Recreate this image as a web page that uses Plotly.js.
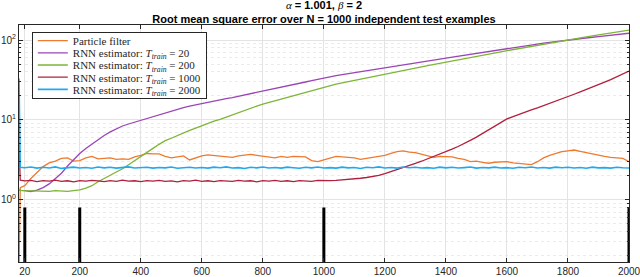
<!DOCTYPE html>
<html>
<head>
<meta charset="utf-8">
<script src="https://cdn.plot.ly/plotly-3.0.1.min.js"></script>
<style>
  html, body { margin: 0; padding: 0; background: #fff; }
  #chart { width: 640px; height: 277px; }
</style>
</head>
<body>
<div id="chart"></div>
<script>
// ---- data ----
var steps = [1, 5,
  20, 40, 60, 80, 100, 120, 140, 160, 180, 200,
  220, 240, 260, 280, 300, 320, 340, 360, 380, 400,
  420, 440, 460, 480, 500, 520, 540, 560, 580, 600,
  620, 640, 660, 680, 700, 720, 740, 760, 780, 800,
  820, 840, 860, 880, 900, 920, 940, 960, 980, 1000,
  1020, 1040, 1060, 1080, 1100, 1120, 1140, 1160, 1180, 1200,
  1220, 1240, 1260, 1280, 1300, 1320, 1340, 1360, 1380, 1400,
  1420, 1440, 1460, 1480, 1500, 1520, 1540, 1560, 1580, 1600,
  1620, 1640, 1660, 1680, 1700, 1720, 1740, 1760, 1780, 1800,
  1820, 1840, 1860, 1880, 1900, 1920, 1940, 1960, 1980, 2000];

var particleFilter = [0.12, 1.42,
  1.5, 1.85, 2.2, 2.6, 2.9, 3.05, 3.3, 3.35, 3.05, 3.1,
  3.35, 3.5, 3.25, 3.3, 3.35, 3.2, 3.25, 3.2, 3.45, 3.6,
  3.8, 3.75, 3.75, 3.5, 3.35, 3.45, 3.55, 3.15, 3.35, 3.55,
  3.65, 3.6, 3.5, 3.45, 3.4, 3.55, 3.65, 3.7, 3.6, 3.5,
  3.4, 3.35, 3.5, 3.4, 3.5, 3.5, 3.45, 3.1, 3.0, 3.15,
  3.3, 3.5, 3.45, 3.4, 3.35, 3.2, 3.3, 3.45, 3.5, 3.6,
  3.8, 4.0, 4.1, 3.95, 3.9, 3.75, 3.55, 3.4, 3.5, 3.5,
  3.45, 3.3, 3.2, 3.0, 3.05, 2.95, 2.87, 2.95, 3.0, 3.0,
  2.9, 2.85, 2.78, 2.75, 3.0, 3.35, 3.6, 3.8, 4.0, 4.1,
  4.2, 4.05, 3.9, 3.7, 3.6, 3.5, 3.4, 3.35, 3.3, 3.0];

var rnnT20 = [1.33, 1.31,
  1.3, 1.27, 1.32, 1.42, 1.58, 1.82, 2.15, 2.65, 3.2, 3.8,
  4.4, 5.0, 5.7, 6.4, 7.1, 7.8, 8.4, 8.9, 9.4, 9.9,
  10.4, 10.9, 11.5, 12.1, 12.8, 13.6, 14.3, 14.9, 15.5, 16.1,
  16.7, 17.3, 17.9, 18.5, 19.1, 19.8, 20.5, 21.3, 22.1, 23.0,
  23.8, 24.7, 25.6, 26.6, 27.6, 28.7, 29.9, 31.1, 32.4, 33.7,
  34.8, 35.9, 37.0, 38.1, 39.2, 40.3, 41.4, 42.6, 43.8, 45.0,
  46.3, 47.6, 48.9, 50.3, 51.8, 53.3, 54.8, 56.4, 58.0, 59.6,
  61.3, 63.0, 64.8, 66.6, 68.5, 70.4, 72.4, 74.4, 76.5, 78.6,
  80.7, 82.8, 85.0, 87.2, 89.4, 91.6, 93.8, 96.0, 98.2, 100.4,
  102.5, 104.6, 106.7, 108.8, 110.9, 113.0, 115.2, 117.4, 119.6, 122.0];

var rnnT200 = [1.35, 1.31,
  1.3, 1.29, 1.28, 1.29, 1.27, 1.3, 1.28, 1.27, 1.3, 1.33,
  1.4, 1.5, 1.68, 1.85, 2.0, 2.2, 2.45, 2.75, 3.1, 3.55,
  3.95, 4.4, 4.95, 5.5, 5.9, 6.4, 6.9, 7.4, 7.9, 8.5,
  9.1, 9.7, 10.2, 10.9, 11.6, 12.4, 13.2, 14.0, 14.9, 15.8,
  16.6, 17.5, 18.4, 19.3, 20.3, 21.3, 22.3, 23.4, 24.6, 25.8,
  27.0, 28.1, 29.2, 30.3, 31.5, 32.7, 33.9, 35.1, 36.4, 37.7,
  39.0, 40.4, 41.8, 43.3, 44.8, 46.4, 48.0, 49.7, 51.4, 53.2,
  55.0, 56.9, 58.8, 60.8, 62.8, 64.9, 67.0, 69.2, 71.5, 73.8,
  76.2, 78.6, 81.1, 83.7, 86.3, 89.0, 91.8, 94.6, 97.5, 100.5,
  103.5, 106.6, 109.8, 113.0, 116.3, 119.6, 123.0, 126.4, 129.9, 133.5];

var rnnT1000 = [5.3, 1.76,
  1.72, 1.75, 1.69, 1.74, 1.71, 1.76, 1.7, 1.73, 1.68, 1.74,
  1.71, 1.75, 1.72, 1.69, 1.74, 1.7, 1.76, 1.71, 1.73, 1.69,
  1.74, 1.71, 1.75, 1.7, 1.72, 1.68, 1.74, 1.71, 1.76, 1.7,
  1.73, 1.69, 1.74, 1.72, 1.7, 1.75, 1.71, 1.73, 1.68, 1.74,
  1.71, 1.75, 1.7, 1.73, 1.69, 1.74, 1.72, 1.7, 1.75, 1.73,
  1.74, 1.75, 1.77, 1.79, 1.82, 1.86, 1.9, 1.95, 2.02, 2.12,
  2.24, 2.38, 2.52, 2.67, 2.85, 3.04, 3.25, 3.45, 3.7, 3.98,
  4.3, 4.65, 5.05, 5.55, 6.1, 6.8, 7.6, 8.5, 9.4, 10.3,
  11.0, 11.8, 12.6, 13.4, 14.2, 15.1, 16.1, 17.2, 18.4, 19.7,
  21.0, 22.5, 24.0, 25.8, 27.7, 29.8, 32.0, 34.5, 37.5, 41.0];

var rnnT2000 = [33, 2.56,
  2.52, 2.57, 2.49, 2.55, 2.5, 2.58, 2.47, 2.53, 2.56, 2.5,
  2.54, 2.48, 2.57, 2.51, 2.55, 2.49, 2.53, 2.58, 2.5, 2.52,
  2.56, 2.49, 2.54, 2.51, 2.57, 2.48, 2.53, 2.55, 2.5, 2.54,
  2.49, 2.56, 2.52, 2.58, 2.5, 2.53, 2.47, 2.55, 2.51, 2.57,
  2.5, 2.54, 2.49, 2.56, 2.52, 2.48, 2.55, 2.51, 2.57, 2.5,
  2.53, 2.49, 2.56, 2.51, 2.54, 2.47, 2.55, 2.52, 2.58, 2.5,
  2.54, 2.49, 2.57, 2.52, 2.55, 2.5, 2.53, 2.48, 2.56, 2.51,
  2.55, 2.5, 2.53, 2.57, 2.49, 2.54, 2.51, 2.56, 2.5, 2.53,
  2.48, 2.55, 2.52, 2.57, 2.5, 2.54, 2.49, 2.56, 2.52, 2.55,
  2.5, 2.54, 2.48, 2.56, 2.51, 2.53, 2.49, 2.55, 2.52, 2.5];

var trainLengths = [20, 200, 1000, 2000];
var trainMarkerHeight = [0.8, 0.8, 0.8, 0.8];
var trainMarkerBase = 0.1;

var seriesNames = [
  'Particle filter',
  'RNN estimator: <i>T</i><sub><i>train</i></sub> = 20',
  'RNN estimator: <i>T</i><sub><i>train</i></sub> = 200',
  'RNN estimator: <i>T</i><sub><i>train</i></sub> = 1000',
  'RNN estimator: <i>T</i><sub><i>train</i></sub> = 2000'
];
var xTickVals = [20, 200, 400, 600, 800, 1000, 1200, 1400, 1600, 1800, 2000];
var yTickVals = [1, 10, 100];
var yTickText = ['10<sup>0</sup>', '10<sup>1</sup>', '10<sup>2</sup>'];
var yMinorVals = [0.2, 0.3, 0.4, 0.5, 0.6, 0.7, 0.8, 0.9,
                  2, 3, 4, 5, 6, 7, 8, 9,
                  20, 30, 40, 50, 60, 70, 80, 90];

// ---- styles ----
var colors = ['#EE7A30', '#9A45B5', '#7DB536', '#B0203C', '#20AAEE'];
var widths = [1.3, 1.3, 1.3, 1.3, 1.6];
var seriesValues = [particleFilter, rnnT20, rnnT200, rnnT1000, rnnT2000];

var traces = seriesValues.map(function (vals, i) {
  return {
    type: 'scatter', mode: 'lines',
    x: steps, y: vals,
    name: seriesNames[i],
    line: { color: colors[i], width: widths[i] },
    showlegend: true
  };
});

// vertical markers at the training lengths
var mx = [], my = [];
trainLengths.forEach(function (t, i) {
  mx.push(t, t, null);
  my.push(trainMarkerBase, trainMarkerHeight[i], null);
});
traces.push({
  type: 'scatter', mode: 'lines', x: mx, y: my,
  line: { color: '#000000', width: 3 },
  showlegend: false, hoverinfo: 'skip', connectgaps: false
});

var axisFont = { family: 'Liberation Sans, Arial, Helvetica, sans-serif', size: 10, color: '#262626' };

var layout = {
  width: 640, height: 277,
  margin: { l: 19, r: 11, t: 25, b: 15, pad: 0 },
  paper_bgcolor: '#ffffff', plot_bgcolor: '#ffffff',
  title: {
    text: '<span style="font-family:Liberation Serif;font-weight:normal"><i>α</i></span> = 1.001, <span style="font-family:Liberation Serif;font-weight:normal"><i>β</i></span> = 2<br>Root mean square error over N = 1000 independent test examples',
    x: 0.5, xref: 'paper', xanchor: 'center',
    y: 0.968, yref: 'container', yanchor: 'top',
    pad: { t: 0, b: 0 },
    font: { family: 'Liberation Sans, Arial, Helvetica, sans-serif', size: 11, color: '#000000', weight: 'bold' }
  },
  showlegend: true,
  legend: {
    x: 0.021, y: 0.97, xanchor: 'left', yanchor: 'top',
    bgcolor: '#ffffff', bordercolor: '#262626', borderwidth: 1,
    font: { family: 'Liberation Serif, Times New Roman, serif', size: 11, color: '#262626' },
    itemwidth: 30, tracegroupgap: 0
  },
  xaxis: {
    type: 'linear', range: [1, 2000],
    tickmode: 'array', tickvals: xTickVals,
    ticks: 'inside', ticklen: 4, tickwidth: 1, tickcolor: '#262626',
    showline: true, linecolor: '#262626', linewidth: 1, mirror: 'ticks',
    showgrid: true, gridcolor: '#e3e3e3', gridwidth: 1,
    zeroline: false, tickfont: axisFont, automargin: false,
    ticklabeloverflow: 'allow'
  },
  yaxis: {
    type: 'log', range: [-0.78, 2.19],
    tickmode: 'array', tickvals: yTickVals, ticktext: yTickText,
    ticks: 'inside', ticklen: 4, tickwidth: 1, tickcolor: '#262626',
    showline: true, linecolor: '#262626', linewidth: 1, mirror: 'ticks',
    showgrid: true, gridcolor: '#e3e3e3', gridwidth: 1,
    minor: {
      tickmode: 'array', tickvals: yMinorVals,
      ticks: 'inside', ticklen: 2, tickcolor: '#262626',
      showgrid: true, gridcolor: '#ebebeb', griddash: 'dot', gridwidth: 1
    },
    zeroline: false, tickfont: axisFont, automargin: false,
    ticklabeloverflow: 'allow'
  }
};

Plotly.newPlot('chart', traces, layout, { staticPlot: true, displayModeBar: false }).then(function (gd) {
  // tighten legend row spacing to match the reference
  var legend = gd.querySelector('.legend');
  if (!legend) return;
  var items = legend.querySelectorAll('.traces');
  var step = 12.2, first = 8.5;
  items.forEach(function (el, i) {
    var m = /translate\(\s*([-\d.]+)[ ,]+([-\d.]+)\s*\)/.exec(el.getAttribute('transform') || '');
    var tx = m ? m[1] : 0;
    el.setAttribute('transform', 'translate(' + tx + ',' + (first + i * step) + ')');
  });
  var h = first * 2 + (items.length - 1) * step;
  var bg = legend.querySelector('rect.bg');
  if (bg) bg.setAttribute('height', h);
});
</script>
</body>
</html>
